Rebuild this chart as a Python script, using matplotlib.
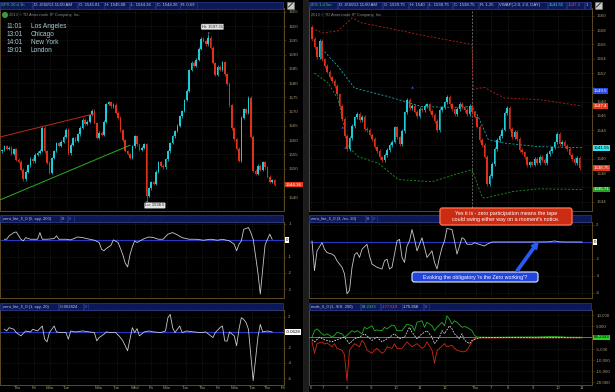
import numpy as np
import matplotlib.pyplot as plt
from matplotlib.patches import Rectangle, FancyBboxPatch, FancyArrow, Circle
from matplotlib.ticker import FuncFormatter

plt.rcParams['font.family'] = ['Liberation Sans', 'DejaVu Sans']

# ---------------- data: SPX 20 d 1h (left) ----------------
spx_first_open = 1556.0
spx_close = [
    1556.5, 1557.8, 1556.9, 1557.4, 1555.2, 1556.8, 1553.1, 1552.4, 1549.6, 1546.3,
    1548.9, 1551.2, 1553.4, 1552.6, 1554.8, 1555.6, 1556.3, 1564.4, 1556.1, 1552.0,
    1548.6, 1553.7, 1556.2, 1559.0, 1558.1, 1559.4, 1561.2, 1563.6, 1555.3, 1558.4,
    1560.7, 1559.8, 1562.1, 1564.3, 1567.2, 1565.7, 1566.4, 1568.8, 1570.3, 1566.0,
    1560.9, 1562.6, 1561.8, 1566.5, 1572.7, 1573.3, 1571.9, 1572.4, 1569.6, 1567.8,
    1563.4, 1559.9, 1556.2, 1555.1, 1553.8, 1557.9, 1561.4, 1558.6, 1556.7, 1557.3,
    1558.6, 1540.4, 1543.1, 1545.2, 1544.6, 1548.9, 1552.3, 1551.0, 1550.4, 1553.2,
    1556.1, 1559.0, 1561.3, 1563.2, 1565.1, 1568.4, 1570.2, 1574.1, 1577.3, 1584.6,
    1587.2, 1586.1, 1588.3, 1592.1, 1595.6, 1594.8, 1593.7, 1596.0, 1592.4, 1587.1,
    1582.9, 1585.8, 1584.7, 1587.4, 1583.1, 1579.8, 1572.2, 1564.1, 1560.3, 1557.0,
    1552.8, 1567.9, 1570.8, 1569.6, 1574.9, 1561.2, 1549.3, 1548.1, 1551.0, 1549.6,
    1552.2, 1550.4, 1547.1, 1545.3, 1546.0, 1544.36,
]
spx_hi_bar, spx_hi = 87, 1597.35
spx_lo_bar, spx_lo = 61, 1538.5
spx_trend_red = [(-0.8, 1561.1), (39.2, 1569.3)]
spx_trend_green = [(-0.8, 1539.0), (54.0, 1558.2)]
spx_day_ticks = [6.75, 13.5, 20.25, 27.4, 40.9, 48.5, 56.1, 62.9, 69.6, 77.6,
                 84.4, 91.1, 98.3, 105.5, 112.2, 118.6]
spx_day_labels = ['Thu', 'Fri', 'Mon', 'Tue', 'Mon', 'Tue', 'Wed', 'Fri', 'Mon', 'Tue',
                  'Thu', 'Fri', 'Mon', 'Tue', 'Thu', 'Fri']
cities = [('11:01', 'Los Angeles'), ('13:01', 'Chicago'),
          ('14:01', 'New York'), ('19:01', 'London')]

# zero_lite_5_0 (5, spy, 200)
z5_i = [1, 2, 3, 5, 6, 8, 9, 10, 12, 15, 16, 17, 19, 22, 23, 24, 27, 29, 32, 34,
        37, 39, 41, 42, 43, 44, 46, 47, 49, 50, 51, 52, 53, 54, 55, 56, 57, 60, 62, 64,
        66, 68, 70, 72, 74, 76, 79, 82, 85, 88, 91, 93, 96, 98, 99, 100, 101, 102, 104, 105,
        106, 107, 108, 109, 110, 111, 112, 113, 114]
z5_v = [0.06, 0.06, 0.27, 0.47, 0.51, 0.06, -0.04, 0.16, 0.06, 0.06, 0.47, 0.06, 0.06, 0.10,
        0.27, 0.06, 0.06, 0.02, 0.20, 0.16, 0.06, 0.00, -0.14, -0.55, -0.65, -0.51, -0.31,
        0.02, -0.14, -0.51, -0.90, -1.40, -1.64, -0.90, -0.40, -0.04, -0.14, 0.10, 0.20, 0.16,
        0.06, 0.06, 0.37, 0.47, 0.33, 0.16, 0.06, 0.06, 0.00, 0.06, 0.00, 0.06, -0.04, -0.25,
        -0.65, -0.25, -0.04, 0.67, 0.78, 0.47, 0.06, -0.96, -2.00, -3.31, -1.80, -0.30, 0.06,
        0.37, 0.06]

# zero_lite_5_0 (1, spy, 20)
z1_i = [1, 2, 3, 5, 6, 8, 10, 12, 13, 15, 17, 18, 19, 20, 21, 22, 23, 25, 27, 28,
        29, 31, 34, 37, 39, 40, 41, 43, 44, 46, 48, 50, 51, 52, 53, 54, 55, 56, 57, 58,
        60, 62, 64, 67, 69, 70, 71, 72, 73, 74, 75, 76, 78, 81, 84, 86, 89, 90, 92, 93,
        94, 95, 96, 98, 99, 100, 101, 102, 103, 104, 105, 106, 107, 108, 109, 110, 112, 114]
z1_v = [0.39, 0.17, 0.60, 0.39, -0.04, -0.47, 0.17, 0.04, 0.39, 0.17, 0.82, -0.90, -1.25,
        -0.04, 0.39, 0.82, 0.04, -0.04, -0.04, -0.90, 0.17, 0.04, 0.17, 0.04, -0.04, -1.12,
        -0.69, -0.26, 0.04, -0.04, -0.04, -0.69, -1.12, -1.76, -2.41, -0.90, 0.60, -0.04, 0.47,
        -0.47, 0.04, 0.17, 0.04, -0.04, 0.17, 1.89, 2.32, 0.60, -0.04, 0.39, 0.82, -0.04, 0.17,
        0.04, -0.04, 0.04, -0.69, -0.04, 0.60, 0.82, -1.12, -1.16, 0.04, -0.47, -1.76, 0.39,
        1.89, 1.68, 1.25, 0.39, -3.00, -6.28, -3.50, -0.60, 1.03, 0.04, 0.17, 0.04]

# ---------------- data: /ES 1 d 5m (right) ----------------
es_first_open = 1558.5
es_close = [
    1556.8, 1555.6, 1554.2, 1556.5, 1553.9, 1553.0, 1552.2, 1551.4, 1550.9, 1550.2,
    1549.0, 1547.4, 1545.6, 1543.2, 1541.4, 1542.9, 1544.6, 1545.8, 1546.3, 1545.4,
    1545.9, 1544.2, 1544.0, 1543.4, 1542.8, 1541.6, 1541.1, 1540.2, 1539.8, 1540.5,
    1541.2, 1541.9, 1542.4, 1544.4, 1543.0, 1542.1, 1543.9, 1546.5, 1548.2, 1547.1,
    1547.4, 1546.6, 1546.0, 1547.0, 1546.8, 1547.4, 1547.6, 1546.7, 1546.1, 1545.3,
    1544.0, 1546.8, 1547.2, 1547.9, 1548.7, 1547.6, 1546.9, 1546.3, 1547.0, 1547.7,
    1547.2, 1546.8, 1546.3, 1547.4, 1546.5, 1545.9, 1544.5, 1542.6, 1541.9, 1540.3,
    1536.5, 1537.6, 1539.3, 1541.4, 1542.6, 1543.2, 1544.1, 1546.4, 1547.1, 1544.2,
    1543.0, 1543.8, 1542.8, 1541.2, 1540.9, 1540.2, 1539.1, 1539.5, 1539.2, 1540.0,
    1539.4, 1540.3, 1539.8, 1539.4, 1540.7, 1541.1, 1541.6, 1542.3, 1543.5, 1542.1,
    1542.4, 1541.8, 1541.4, 1540.6, 1540.0, 1539.4, 1540.1, 1538.75,
]
vwap_up_i = [0, 4, 10.5, 16, 20, 30.5, 44, 54.5, 64, 64.5, 69, 72, 77, 90.5, 104, 108]
vwap_up_v = [1558.3, 1557.6, 1557.9, 1559.7, 1559.0, 1558.3, 1557.3, 1556.6, 1556.0,
             1549.7, 1550.0, 1549.4, 1548.5, 1548.3, 1547.6, 1547.4]
vwap_mid_i = [4, 5, 10.5, 17, 30.5, 44, 57, 64, 66.5, 70.5, 77, 90.5, 108]
vwap_mid_v = [1555.4, 1555.0, 1552.9, 1549.9, 1548.7, 1547.3, 1547.2, 1547.3, 1545.9,
              1542.7, 1542.2, 1541.7, 1541.55]
vwap_lo_i = [1, 6.5, 10.5, 14.5, 18.5, 26.5, 34.5, 48, 61, 64, 68, 69, 80, 90.5, 108]
vwap_lo_v = [1552.0, 1550.6, 1548.3, 1541.7, 1540.3, 1539.4, 1537.1, 1536.8, 1538.2,
             1538.5, 1534.7, 1534.5, 1535.4, 1535.8, 1535.71]
es_arrow_i = [12, 13, 40]
es_arrow_v = [1544.5, 1541.7, 1550.1]
es_session_break = 64
es_hour_ticks = [-0.4, 4.4, 14, 23.6, 33.6, 43.2, 53.2, 65.6, 71.6, 78.4, 88.4, 98.4, 108]
es_hour_labels = ['6', '7', '8', '9', '10', '11', '12', 'Thu', '7', '8', '9', '10', '11']

# zero_lite_5_0 (3, /es, 20)
z3_i = [0, 1, 2, 4, 5, 6, 8, 9, 10, 12, 13, 14, 15, 16, 17, 18, 19, 20, 22, 23,
        24, 25, 26, 28, 29, 30, 31, 32, 33, 34, 35, 36, 37, 38, 39, 40, 41, 42, 44, 45,
        46, 48, 49, 50, 51, 52, 53, 54, 56, 57, 58, 60, 61, 62, 64, 65, 66, 68, 69, 70,
        72, 80, 90, 95, 97, 99, 101, 108]
z3_v = [0.12, -3.37, -1.05, -0.08, -0.85, -1.24, -1.43, -1.63, -2.21, -2.98, -3.76, -6.09,
        -5.70, -3.00, -1.50, -1.24, -1.82, -0.85, -0.27, -1.63, -2.60, -2.79, -2.98, -3.18,
        -2.21, -2.02, -3.18, -2.98, -1.43, 0.12, 0.31, -1.82, -2.40, -0.47, 0.12, 1.47, 0.31,
        -1.05, 0.50, -0.66, -1.82, -1.05, -2.40, -3.18, -1.82, -0.66, 0.12, 1.59, 1.47, 0.12,
        -1.43, 0.50, 0.31, -0.27, -0.27, -0.08, -0.19, -0.39, -0.47, -0.27, 0.00, 0.00, 0.00,
        0.02, 0.12, 0.02, 0.00, 0.00]

# mole_6_0 (1, /ES, 200)
mole_up_i = [0, 1, 2, 4, 5, 6, 8, 9, 10, 12, 13, 14, 16, 17, 18, 20, 21, 22, 24, 25,
             26, 28, 29, 30, 32, 33, 34, 36, 37, 38, 40, 41, 42, 44, 45, 46, 48, 49, 50, 52,
             53, 54, 55, 56, 57, 58, 60, 61, 62, 64, 65, 66, 68, 72, 80, 90, 96, 99, 102, 108]
mole_up_v = [0, 3000, 3800, 1600, 900, 1600, 150, 900, 2300, 1600, 150, 900, 3000, 2300,
             3000, 1600, 4500, 3800, 5200, 3000, 3300, 3000, 4500, 3800, 5500, 5200, 3000,
             3000, 4500, 5900, 5200, 3000, 6700, 7400, 4500, 6700, 5200, 3000, 4500, 6700,
             5200, 9600, 8100, 5900, 7400, 6700, 4500, 4800, 4500, 3000, 900, 150, 100, 50,
             150, 200, 400, 300, 100, 84]
mole_dn_i = [0, 1, 2, 4, 5, 6, 8, 9, 10, 12, 13, 14, 15, 16, 17, 18, 19, 20, 21, 22,
             24, 25, 26, 28, 29, 30, 32, 33, 34, 36, 37, 38, 40, 41, 42, 44, 45, 46, 48, 49,
             50, 51, 53, 54, 56, 57, 58, 60, 61, 62, 64, 65, 66, 70, 80, 90, 100, 108]
mole_dn_v = [-2000, -7100, -2800, -2000, -3000, -2500, -4200, -2800, -4900, -5700, -7800,
             -19400, -5700, -4200, -2800, -3500, -4200, -1300, -2800, -5700, -7100, -5700,
             -4900, -7100, -6400, -4200, -4900, -2800, -4900, -4900, -3500, -2000, -4200,
             -3500, -2800, -4900, -4200, -2000, -5700, -11500, -6000, -4900, -2800, -4200,
             -3500, -4900, -5700, -6400, -6400, -5700, -2000, -600, -150, -300, -200, -250,
             -200, -178]
mole_mid_i = [0, 1, 3, 5, 8, 11, 13, 15, 17, 19, 21, 24, 26, 28, 31, 33, 35, 37, 39, 40,
              42, 44, 46, 48, 49, 51, 52, 53, 55, 56, 57, 59, 60, 61, 63, 64, 66, 68, 80, 90,
              100, 108]
mole_mid_v = [-1000, -2000, 100, -1000, -2000, -600, 100, -2800, -600, 100, 1600, -1300,
              100, -2000, 100, 1600, -600, 100, 4500, 2300, -600, 1600, 3000, 100, -2800, 100,
              3000, 1600, 5200, 3800, 1600, -600, 1600, -1300, -2800, -1300, -600, 0, -100,
              -150, -120, -175]

# ---------------- colours ----------------
BG = '#000000'
FRAME = '#5c4a22'
TICK = '#a89870'
GRID = '#3a3a3a'
UP = '#1ecbd6'
DOWN = '#e0301a'
NAVY = '#0c1858'
NAVY_EDGE = '#2c3c8c'
CELL_TXT = '#c8c8c8'
LINE = '#c8c8c8'
ZERO = '#2438c8'

W, H = 615, 392
fig = plt.figure(figsize=(W / 100, H / 100), dpi=100, facecolor=BG)


def px_axes(x0, y0, x1, y1):
    return fig.add_axes([x0 / W, 1 - y1 / H, (x1 - x0) / W, (y1 - y0) / H])


def style(ax, xlim, xticks, ylim, yticks, hide=(), fmt='{:g}'):
    ax.set_facecolor(BG)
    for s in ax.spines.values():
        s.set_color(FRAME)
        s.set_linewidth(0.7)
    ax.set_xlim(xlim)
    ax.set_ylim(ylim)
    ax.yaxis.tick_right()
    ax.set_yticks(yticks)
    # labels hidden under a value box are left blank, as in the platform
    ax.yaxis.set_major_formatter(FuncFormatter(
        lambda v, p: '' if any(abs(v - h) < 1e-6 for h in hide) else fmt.format(v)))
    ax.tick_params(axis='y', colors=TICK, labelsize=3.2, length=1.5, width=0.4, pad=1.5)
    ax.tick_params(axis='y', color=FRAME)
    ax.set_xticks(xticks)
    ax.tick_params(axis='x', length=0, labelbottom=False)
    ax.grid(True, color=GRID, linestyle=(0, (1, 2)), linewidth=0.4)
    ax.set_axisbelow(True)


def candles(ax, first_open, closes, width, ext):
    c = np.array(closes)
    o = np.concatenate([[first_open], c[:-1]])
    idx = np.arange(len(c))
    top = np.maximum(o, c)
    bot = np.minimum(o, c)
    cols = np.where(c >= o, UP, DOWN)
    ax.vlines(idx, bot - ext, top + ext, colors=cols, lw=0.5, zorder=3)
    ax.bar(idx, np.maximum(top - bot, ext * 0.4), bottom=bot, width=width,
           color=cols, lw=0, zorder=3)
    return idx, o, c


def value_box(ax, y, text, fc, tc='black'):
    ax.text(1.006, y, text, transform=ax.get_yaxis_transform(), ha='left', va='center',
            fontsize=3.2, color=tc, zorder=6,
            bbox=dict(boxstyle='square,pad=0.18', fc=fc, ec='none'))


def bottom_ticks(ax, labels):
    ax.set_xticklabels(labels)
    ax.tick_params(axis='x', labelbottom=True, labelsize=3.1, colors=TICK, color=FRAME,
                   length=1.0, width=0.4, pad=0.3)


# ---------------- left panel ----------------
l_xlim = (-0.84, 119.0)
ax_spx = px_axes(0, 8, 284, 211)
style(ax_spx, l_xlim, spx_day_ticks, (1535.1, 1606.4), np.arange(1540, 1606, 5), hide=(1545,))
idx, o, c = candles(ax_spx, spx_first_open, spx_close, 0.7, 0.5)
ax_spx.vlines([spx_hi_bar], [max(o[spx_hi_bar], c[spx_hi_bar])], [spx_hi], colors=UP, lw=0.5, zorder=3)
ax_spx.vlines([spx_lo_bar], [spx_lo], [min(o[spx_lo_bar], c[spx_lo_bar])], colors=DOWN, lw=0.5, zorder=3)
ax_spx.plot(*zip(*spx_trend_red), color='#c02818', lw=0.7, zorder=4)
ax_spx.plot(*zip(*spx_trend_green), color='#28b020', lw=0.7, zorder=4)
ax_spx.annotate(f'Hi: {spx_hi}', xy=(spx_hi_bar, spx_hi), xytext=(3, 5), textcoords='offset points',
                ha='center', va='center', fontsize=3.0, color='#202020', zorder=6,
                bbox=dict(boxstyle='round,pad=0.2', fc='#e4e4e4', ec='#888888', lw=0.3),
                arrowprops=dict(arrowstyle='-', color='#c0c0c0', lw=0.4))
ax_spx.annotate(f'Lo: {spx_lo}', xy=(spx_lo_bar, spx_lo), xytext=(6, -3), textcoords='offset points',
                ha='center', va='center', fontsize=3.0, color='#202020', zorder=6,
                bbox=dict(boxstyle='round,pad=0.2', fc='#e4e4e4', ec='#888888', lw=0.3),
                arrowprops=dict(arrowstyle='-', color='#c0c0c0', lw=0.4))
value_box(ax_spx, spx_close[-1], f'{spx_close[-1]:.2f}', '#e8361c', 'white')
for k, (t, city) in enumerate(cities):
    ax_spx.text(7 / 284, 1 - (19 + 7.7 * k) / 203, t, transform=ax_spx.transAxes,
                fontsize=4.7, color='#a8cdd8', va='center', zorder=6)
    ax_spx.text(31 / 284, 1 - (19 + 7.7 * k) / 203, city, transform=ax_spx.transAxes,
                fontsize=4.7, color='#a8cdd8', va='center', zorder=6)

ax_z5 = px_axes(0, 222, 284, 298)
style(ax_z5, l_xlim, spx_day_ticks, (-3.55, 1.12), [-3, -2, -1, 0, 1], hide=(0,))
ax_z5.axhline(0, color=ZERO, lw=0.8)
ax_z5.plot(z5_i, z5_v, color=LINE, lw=0.6, zorder=4)
value_box(ax_z5, 0, '0', 'white')

ax_z1 = px_axes(0, 310, 284, 384.5)
style(ax_z1, l_xlim, spx_day_ticks, (-6.8, 2.9), [-6, -4, -2, 0, 2], hide=(0,))
ax_z1.axhline(0, color=ZERO, lw=0.8)
ax_z1.plot(z1_i, z1_v, color=LINE, lw=0.6, zorder=4)
value_box(ax_z1, 0, '-0.0628', 'white')
bottom_ticks(ax_z1, spx_day_labels)

# ---------------- right panel ----------------
r_xlim = (-1.2, 112.0)
ax_es = px_axes(309, 8, 592, 211)
style(ax_es, r_xlim, es_hour_ticks, (1532.7, 1561.1), np.arange(1534, 1561, 2),
      hide=(1550, 1542, 1536))
ax_es.axvline(es_session_break, color='#8a8a8a', lw=0.5, ls=(0, (3, 2)), zorder=2)
ax_es.plot(vwap_up_i, vwap_up_v, color='#b02414', lw=0.6, ls=(0, (2.5, 2)), zorder=2.5)
ax_es.plot(vwap_mid_i, vwap_mid_v, color='#18a8a8', lw=0.6, ls=(0, (2.5, 2)), zorder=2.5)
ax_es.plot(vwap_lo_i, vwap_lo_v, color='#1c9a1c', lw=0.6, ls=(0, (2.5, 2)), zorder=2.5)
candles(ax_es, es_first_open, es_close, 0.6, 0.25)
ax_es.scatter(es_arrow_i, es_arrow_v, marker='^', s=3, color='#2a50ff', zorder=5, lw=0)
value_box(ax_es, 1549.5, '1549.5', '#2a4ae8', 'white')
value_box(ax_es, 1547.4, '1547.4', '#e8361c', 'white')
value_box(ax_es, 1541.55, '1541.55', '#30e6f0', 'black')
value_box(ax_es, es_close[-1], f'{es_close[-1]:.2f}', '#e8361c', 'white')
value_box(ax_es, 1535.71, '1535.71', '#22a422', 'white')

ax_z3 = px_axes(309, 222, 592, 298)
style(ax_z3, r_xlim, es_hour_ticks, (-6.59, 2.35), [-6, -4, -2, 0, 2], hide=(0,))
ax_z3.axhline(0, color=ZERO, lw=0.8)
ax_z3.plot(z3_i, z3_v, color=LINE, lw=0.6, zorder=4)
value_box(ax_z3, 0, '0', 'white')

ax_mole = px_axes(309, 310, 592, 384.5)
style(ax_mole, r_xlim, es_hour_ticks, (-21000, 12206), np.arange(-20000, 10001, 5000),
      hide=(0,), fmt='{:,.0f}')
ax_mole.axhline(0, color='#b040c8', lw=0.7, zorder=3)
ax_mole.plot(mole_up_i, mole_up_v, color='#22b022', lw=0.6, zorder=4)
ax_mole.plot(mole_dn_i, mole_dn_v, color='#d02a12', lw=0.6, zorder=4)
ax_mole.plot(mole_mid_i, mole_mid_v, color='#e0e0e0', lw=0.6, ls=(0, (2, 1.5)), zorder=4)
value_box(ax_mole, 0, '84.2333', '#28d028', 'black')
bottom_ticks(ax_mole, es_hour_labels)

# ---------------- overlay: headers, divider, notes ----------------
ov = fig.add_axes([0, 0, 1, 1])
ov.set_xlim(0, W)
ov.set_ylim(H, 0)
ov.axis('off')
ov.add_patch(Rectangle((303, 0), 5, H, fc='#1c1c1c', ec='#2e2e2e', lw=0.4))


def header(x0, x1, y0, y1, cells, fs=3.1):
    ov.add_patch(Rectangle((x0, y0), x1 - x0, y1 - y0, fc=NAVY, ec=NAVY_EDGE, lw=0.5))
    for cx0, cx1, text, col in cells:
        ov.add_patch(Rectangle((cx0, y0), cx1 - cx0, y1 - y0, fc=NAVY, ec=NAVY_EDGE, lw=0.4))
        ov.text(cx0 + 1, (y0 + y1) / 2 + 0.2, text, color=col, fontsize=fs, va='center', ha='left')


def icon(x, y):
    ov.add_patch(Rectangle((x, y), 7, 7, fc='#c8c8c8', ec='#808080', lw=0.4))
    ov.plot([x + 1.5, x + 5.5], [y + 5.5, y + 1.5], color='#202020', lw=0.6)


header(0, 283, 1.5, 8.5, [(0, 32, 'SPX 20 d 1h', '#30d050'),
                          (33, 77, 'D: 4/18/13 11:00 AM', CELL_TXT),
                          (78, 104, 'O: 1545.81', CELL_TXT),
                          (104, 129, 'H: 1545.08', CELL_TXT),
                          (130, 155, 'L: 1544.36', CELL_TXT),
                          (156, 180, 'C: 1544.36', CELL_TXT),
                          (180, 197, 'R: 0.69', CELL_TXT)])
icon(287, 1.5)
header(309, 591, 1.5, 8.5, [(310, 337, '/ES 1 d 5m', '#30d050'),
                            (338, 382, 'D: 4/18/13 11:00 AM', CELL_TXT),
                            (383, 408, 'O: 1539.75', CELL_TXT),
                            (409, 427, 'H: 1540', CELL_TXT),
                            (428, 452, 'L: 1538.75', CELL_TXT),
                            (453, 478, 'C: 1538.75', CELL_TXT),
                            (479, 498, 'R: 1.25', CELL_TXT),
                            (498, 547, 'VWAP(-2.0, 2.0, DAY)', CELL_TXT),
                            (548, 566, '1541.55', '#30e6f0'),
                            (567, 584, '1547.4', '#ff4a30'),
                            (585, 590, '1', CELL_TXT)])
icon(595, 1.5)
header(0, 283, 215, 222, [(2, 60, 'zero_lite_5_0 (5, spy, 200)', CELL_TXT),
                          (61, 67, '0', CELL_TXT), (68, 74, '0', '#4a66ff')], fs=3.0)
header(0, 283, 303, 310, [(2, 58, 'zero_lite_5_0 (1, spy, 20)', CELL_TXT),
                          (59, 83, '-0.062824', CELL_TXT), (84, 88, '0', '#4a66ff')], fs=3.0)
header(309, 591, 215, 222, [(310, 365, 'zero_lite_5_0 (3, /es, 20)', CELL_TXT),
                            (366, 371, '0', CELL_TXT), (372, 377, '0', '#4a66ff')], fs=3.0)
header(309, 591, 303, 310, [(310, 360, 'mole_6_0 (1, /ES, 200)', CELL_TXT),
                            (361, 380, '84.2333', '#30d050'),
                            (381, 402, '-177.619', '#ff4a30'),
                            (402, 423, '-175.368', '#e0e0e0'),
                            (424, 429, '0', '#c050e0')], fs=3.0)

# copyright lines
ov.add_patch(Circle((5, 15), 2.6, fc='#2ea02e', ec='#80d080', lw=0.3))
ov.text(9, 15.2, '2013 © TD Ameritrade IP Company, Inc.', color='#8c8c8c', fontsize=2.9, va='center')
ov.text(311, 15.2, '2013 © TD Ameritrade IP Company, Inc.', color='#8c8c8c', fontsize=2.9, va='center')

# call-outs
ov.add_patch(FancyBboxPatch((440, 208), 132, 17, boxstyle='round,pad=0,rounding_size=2.5',
                            fc='#cc2c14', ec='#ff6a4a', lw=1.0, zorder=8))
ov.text(506, 216.7, 'Yes it is - zero participation means the tape\ncould swing either way on a moment\'s notice.',
        color='white', fontsize=3.8, ha='center', va='center', linespacing=1.15, zorder=9)
ov.add_patch(FancyBboxPatch((412, 272), 126, 10, boxstyle='round,pad=0,rounding_size=2.5',
                            fc='#2246dc', ec='#e8ecff', lw=0.8, zorder=8))
ov.text(475, 277.2, 'Evoking the obligatory \'is the Zero working\'?', color='white',
        fontsize=3.8, ha='center', va='center', zorder=9)
ov.add_patch(FancyArrow(517, 271, 21, -29, width=2.4, head_width=6.5, head_length=7,
                        length_includes_head=True, fc='#2a5af5', ec='#2a5af5', zorder=8))

fig.savefig('out.png', dpi=100, facecolor=BG)
